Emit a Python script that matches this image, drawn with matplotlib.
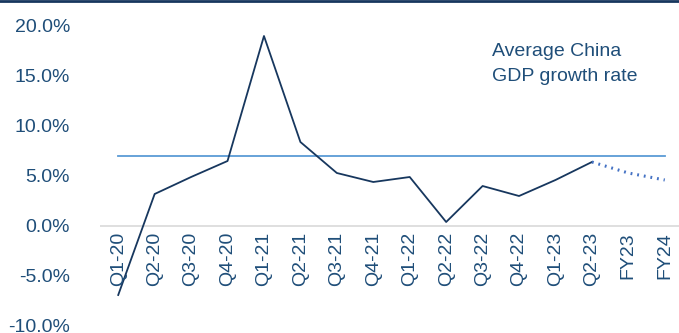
import numpy as np
import matplotlib.pyplot as plt
from matplotlib.ticker import FuncFormatter

plt.rcParams['font.family'] = ['Liberation Sans', 'DejaVu Sans']

# data (%)
quarters = ["Q1-20", "Q2-20", "Q3-20", "Q4-20", "Q1-21", "Q2-21", "Q3-21", "Q4-21",
            "Q1-22", "Q2-22", "Q3-22", "Q4-22", "Q1-23", "Q2-23"]
gdp = [-6.9, 3.2, 4.9, 6.5, 19.0, 8.4, 5.3, 4.4, 4.9, 0.4, 4.0, 3.0, 4.6, 6.4]
forecast_labels = ["Q2-23", "FY23", "FY24"]
forecast = [6.4, 5.3, 4.6]
avg_growth = 7.0

labels = quarters + forecast_labels[1:]
navy = "#17375e"
text_col = "#1f4e79"

fig = plt.figure(figsize=(6.79, 3.33), dpi=100)
ax = fig.add_axes([100 / 679, 7 / 333, 583 / 679, 300 / 333])

x = np.arange(len(labels))
ax.plot(x[:len(quarters)], gdp, color=navy, lw=1.3, zorder=3)
ax.plot(x[len(quarters) - 1:], forecast, color="#4472c4", lw=2.2,
        linestyle=(0, (0.6, 1.6)), zorder=3)
ax.plot([x[0], x[-1]], [avg_growth, avg_growth], color="#5b9bd5", lw=1.3, zorder=2)
ax.axhline(0, color="#d9d9d9", lw=1.2, zorder=1)

ax.set_xlim(-0.5, 15.5)
ax.set_ylim(-10, 20)
ax.set_yticks(np.arange(-10, 21, 5))
ax.yaxis.set_major_formatter(FuncFormatter(lambda v, p: f"{v:.1f}%"))
ax.tick_params(axis='y', length=0, pad=21.5, labelsize=14, labelcolor=text_col)

ax.set_xticks(x)
ax.set_xticklabels([])
for xi, lab in zip(x, labels):
    ax.text(xi, -0.6, lab, rotation=90, ha='center', va='top', fontsize=14,
            color=text_col)
ax.tick_params(axis='x', length=0)

for s in ax.spines.values():
    s.set_visible(False)

ax.text(10.25, 16.2, "Average China\nGDP growth rate", fontsize=14, color=text_col,
        ha='left', va='center', linespacing=1.6)

fig.add_artist(plt.Line2D([0, 1], [0.997, 0.997], transform=fig.transFigure,
                          color=navy, lw=2))

fig.savefig("out.png", dpi=100)
